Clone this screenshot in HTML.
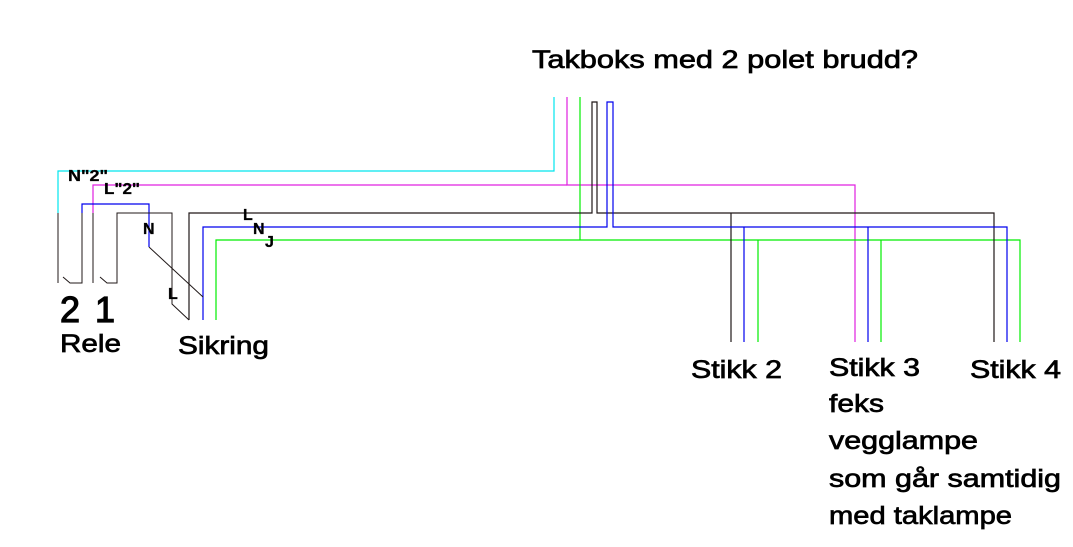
<!DOCTYPE html>
<html><head><meta charset="utf-8"><style>html,body{margin:0;padding:0;background:#fff;}svg{display:block}</style></head><body>
<svg width="1073" height="547" viewBox="0 0 1073 547" xmlns="http://www.w3.org/2000/svg">
<g fill="none" stroke-width="1.2">
<polyline points="554,97 554,171 58,171 58,213" stroke="#00e5ee"/>
<polyline points="567,97 567,185 855,185 855,342" stroke="#e020e0"/>
<polyline points="567,185 93,185 93,213" stroke="#e020e0"/>
<polyline points="580,97 580,240" stroke="#00ee00"/>
<polyline points="216,320 216,240 1020,240 1020,342" stroke="#00ee00"/>
<line x1="758" y1="240" x2="758" y2="342" stroke="#00ee00"/>
<line x1="881" y1="240" x2="881" y2="342" stroke="#00ee00"/>
<polyline points="189,320 189,213 592,213 592,102 597,102 597,213 994,213 994,342" stroke="#201818"/>
<line x1="731" y1="213" x2="731" y2="342" stroke="#201818"/>
<polyline points="203,320 203,227 607,227 607,102 613,102 613,227 1007,227 1007,342" stroke="#0000ee"/>
<line x1="744" y1="227" x2="744" y2="342" stroke="#0000ee"/>
<line x1="868" y1="227" x2="868" y2="342" stroke="#0000ee"/>
<polyline points="82,213 82,204 149,204 149,247" stroke="#0000ee"/>
<g stroke="#201818" stroke-width="1">
<line x1="58" y1="213" x2="58" y2="283"/>
<polyline points="63,277 70,283 82,283 82,213"/>
<line x1="93" y1="213" x2="93" y2="283"/>
<polyline points="100,277 107,283 117,283 117,213 172,213 172,304 189,320"/>
<line x1="149" y1="247" x2="203" y2="297"/>
</g>
</g>
<g font-family="Liberation Sans, sans-serif" fill="#000" stroke="#000" stroke-width="0.7">
<text x="532" y="68" font-size="25" textLength="386" lengthAdjust="spacingAndGlyphs">Takboks med 2 polet brudd?</text>
<text x="60" y="322" font-size="36" stroke-width="1.2">2</text>
<text x="95" y="322" font-size="36" stroke-width="1.2">1</text>
<text x="60" y="352" font-size="25" textLength="61" lengthAdjust="spacingAndGlyphs">Rele</text>
<text x="178" y="354" font-size="25" textLength="91" lengthAdjust="spacingAndGlyphs">Sikring</text>
<text x="691" y="378" font-size="25" textLength="91" lengthAdjust="spacingAndGlyphs">Stikk 2</text>
<text x="829" y="376" font-size="25" textLength="91" lengthAdjust="spacingAndGlyphs">Stikk 3</text>
<text x="970" y="378" font-size="25" textLength="91" lengthAdjust="spacingAndGlyphs">Stikk 4</text>
<text x="829" y="412" font-size="25" textLength="55" lengthAdjust="spacingAndGlyphs">feks</text>
<text x="829" y="449" font-size="25" textLength="149" lengthAdjust="spacingAndGlyphs">vegglampe</text>
<text x="829" y="487" font-size="25" textLength="232" lengthAdjust="spacingAndGlyphs">som går samtidig</text>
<text x="829" y="524" font-size="25" textLength="183" lengthAdjust="spacingAndGlyphs">med taklampe</text>
<g font-size="16" font-weight="bold" stroke-width="0.3">
<text x="68" y="181" textLength="40" lengthAdjust="spacingAndGlyphs">N"2"</text>
<text x="104" y="194" textLength="36" lengthAdjust="spacingAndGlyphs">L"2"</text>
<text x="143" y="234">N</text>
<text x="168" y="299">L</text>
<text x="243" y="220">L</text>
<text x="253" y="234">N</text>
<text x="265" y="247">J</text>
</g>
</g>
</svg>
</body></html>
